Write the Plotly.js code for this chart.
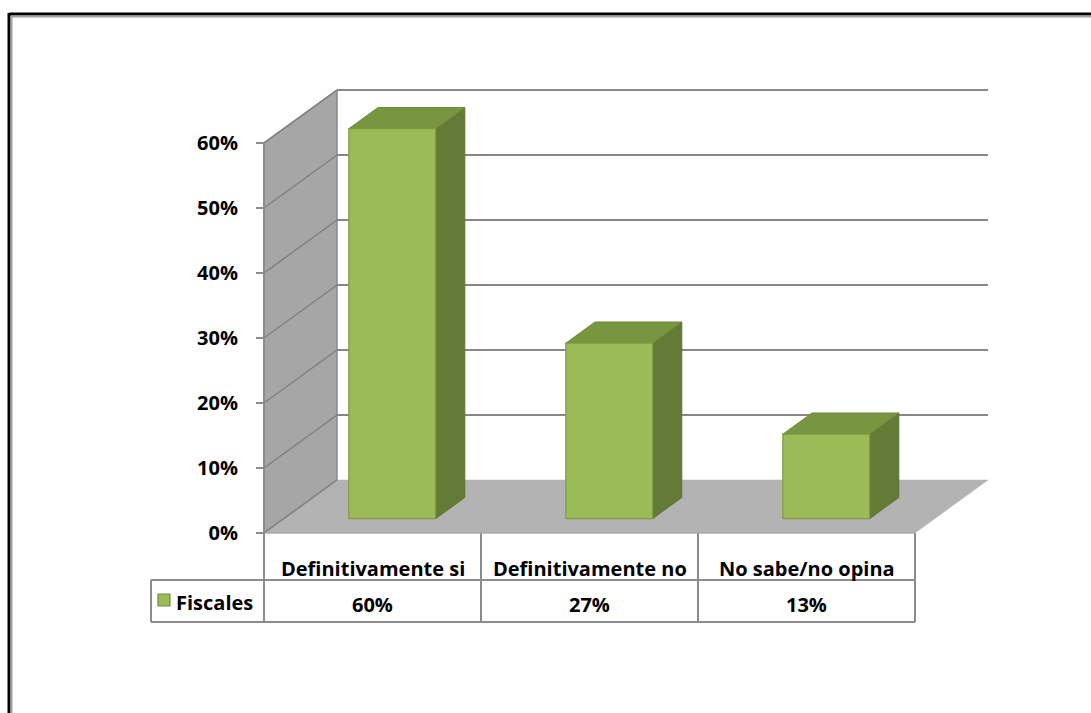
<!DOCTYPE html>
<html>
<head>
<meta charset="utf-8">
<script src="https://cdn.plot.ly/plotly-3.0.1.min.js"></script>
<style>html,body{margin:0;padding:0;background:#fff;}#chart{width:1091px;height:713px;}</style>
</head>
<body>
<div id="chart"></div>
<script>
// ---- data ----
const categories = ['Definitivamente si', 'Definitivamente no', 'No sabe/no opina'];
const values = [60, 27, 13];
const valueLabels = ['60%', '27%', '13%'];
const seriesName = 'Fiscales';
const tickVals = [0, 10, 20, 30, 40, 50, 60];
const tickText = ['0%', '10%', '20%', '30%', '40%', '50%', '60%'];

// ---- geometry / style ----
const W = 1091, H = 713;
const PX_PER_CAT = 217, PX_PER_PCT = 6.5;
const X0PX = 264, Y0PX = 533;
const DX = 73 / PX_PER_CAT;   // depth offset in category units
const DY = 53 / PX_PER_PCT;   // depth offset in percent units
const WALL_TOP = tickVals[tickVals.length - 1];
const N = categories.length;
const BAR_D0 = 0.27, BAR_D1 = 0.67, BAR_L = 0.30, BAR_R = 0.70;
const FONT = 'Open Sans, Lato, sans-serif';

function P(x, v, d) { return [x + d * DX, v + d * DY]; }
function poly(pts, fill, line, lw) {
  const xs = pts.map(p => p[0]), ys = pts.map(p => p[1]);
  xs.push(xs[0]); ys.push(ys[0]);
  return {type: 'scatter', mode: 'lines', x: xs, y: ys, fill: 'toself', fillcolor: fill,
          line: {color: line, width: lw}, hoverinfo: 'skip', showlegend: false};
}
function seg(a, b, color, w) {
  return {type: 'scatter', mode: 'lines', x: [a[0], b[0]], y: [a[1], b[1]],
          line: {color: color, width: w}, hoverinfo: 'skip', showlegend: false};
}

const traces = [];
// side wall
traces.push(poly([P(0, 0, 0), P(0, WALL_TOP, 0), P(0, WALL_TOP, 1), P(0, 0, 1)], '#a6a6a6', '#8c8c8c', 1.5));
// floor
traces.push(poly([P(0, 0, 0), P(0, 0, 1), P(N, 0, 1), P(N, 0, 0)], '#b3b3b3', '#b3b3b3', 0.5));
// gridlines on back wall + side wall diagonals
tickVals.forEach(v => {
  if (v > 0) traces.push(seg(P(0, v, 1), P(N, v, 1), '#878787', 2));
  traces.push(seg(P(0, v, 0), P(0, v, 1), '#808080', 1.5));
});
// front axis line
traces.push(seg(P(0, 0, 0), P(0, WALL_TOP, 0), '#8c8c8c', 2));
// bars
values.forEach((v, i) => {
  const l = i + BAR_L, r = i + BAR_R;
  traces.push(poly([P(r, 0, BAR_D0), P(r, v, BAR_D0), P(r, v, BAR_D1), P(r, 0, BAR_D1)], '#647a37', '#5f7434', 1));
  traces.push(poly([P(l, v, BAR_D0), P(l, v, BAR_D1), P(r, v, BAR_D1), P(r, v, BAR_D0)], '#789540', '#6f8a3a', 1));
  traces.push(poly([P(l, 0, BAR_D0), P(l, v, BAR_D0), P(r, v, BAR_D0), P(r, 0, BAR_D0)], '#9bbb59', '#7e9c42', 1.2));
});

// ---- table ----
const yPx = px => (Y0PX - px) / PX_PER_PCT;
const xPx = px => (px - X0PX) / PX_PER_CAT;
const ROW1_BOT = yPx(580), ROW2_BOT = yPx(622);
const TBL_LEFT = xPx(151);
const TCOL = '#8c8c8c';
const shapes = [];
function line(x0, y0, x1, y1, color, w, ref) {
  shapes.push({type: 'line', xref: ref || 'x', yref: ref || 'y', x0, y0, x1, y1, line: {color, width: w}});
}
for (let i = 0; i <= N; i++) line(i, 0, i, ROW2_BOT, TCOL, 2);
line(TBL_LEFT, ROW1_BOT, TBL_LEFT, ROW2_BOT, TCOL, 2);
line(TBL_LEFT, ROW1_BOT, N, ROW1_BOT, TCOL, 2);
line(TBL_LEFT, ROW2_BOT, N, ROW2_BOT, TCOL, 2);
line(0, 0, N, 0, '#a0a0a0', 1);
// legend key
shapes.push({type: 'rect', xref: 'x', yref: 'y', x0: xPx(158), x1: xPx(170), y0: yPx(606), y1: yPx(594),
  fillcolor: '#9bbb59', line: {color: '#71893f', width: 1.2}});
// frame
shapes.push({type: 'line', xref: 'paper', yref: 'paper', x0: 9 / W, x1: 1, y0: 1 - 14 / H, y1: 1 - 14 / H, line: {color: '#000', width: 3}});
shapes.push({type: 'line', xref: 'paper', yref: 'paper', x0: 9 / W, x1: 9 / W, y0: 0, y1: 1 - 13 / H, line: {color: '#000', width: 3}});
shapes.push({type: 'line', xref: 'paper', yref: 'paper', x0: 11.5 / W, x1: 1, y0: 1 - 16.5 / H, y1: 1 - 16.5 / H, line: {color: '#a0a0a0', width: 2}});
shapes.push({type: 'line', xref: 'paper', yref: 'paper', x0: 11.5 / W, x1: 11.5 / W, y0: 0, y1: 1 - 16.5 / H, line: {color: '#a0a0a0', width: 2}});

const annotations = [];
const tf = {family: FONT, size: 20, color: '#000', weight: 'bold'};
categories.forEach((c, i) => annotations.push({x: i + 0.5, y: yPx(568), xref: 'x', yref: 'y', text: c, showarrow: false, font: tf, xanchor: 'center', yanchor: 'middle'}));
valueLabels.forEach((t, i) => annotations.push({x: i + 0.5, y: yPx(604), xref: 'x', yref: 'y', text: t, showarrow: false, font: tf, xanchor: 'center', yanchor: 'middle'}));
annotations.push({x: xPx(174), y: yPx(602), xref: 'x', yref: 'y', text: seriesName, showarrow: false, font: tf, xanchor: 'left', yanchor: 'middle'});

const layout = {
  width: W, height: H, margin: {l: 0, r: 0, t: 0, b: 0},
  paper_bgcolor: '#fff', plot_bgcolor: '#fff', showlegend: false,
  xaxis: {visible: false, range: [xPx(0), xPx(W)], fixedrange: true},
  yaxis: {range: [yPx(H), yPx(0)], anchor: 'free', position: X0PX / W, tickvals: tickVals, ticktext: tickText,
    ticks: 'outside', ticklen: 8, tickwidth: 2, tickcolor: '#8c8c8c', showgrid: false, zeroline: false, showline: false,
    automargin: false, ticklabelstandoff: 14, tickfont: tf, fixedrange: true},
  shapes, annotations
};
Plotly.newPlot('chart', traces, layout, {displayModeBar: false, staticPlot: true});
</script>
</body>
</html>
